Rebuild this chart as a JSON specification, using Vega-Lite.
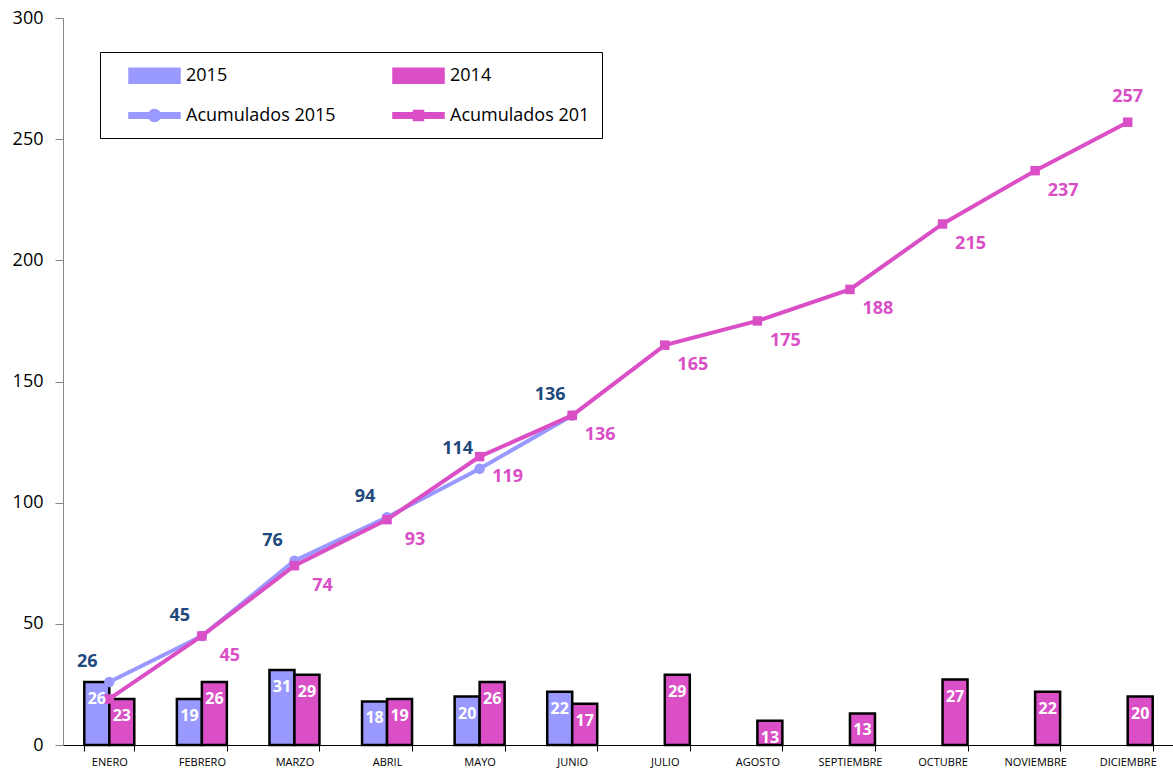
{
  "$schema": "https://vega.github.io/schema/vega-lite/v6.json",
  "width": 1111,
  "height": 727,
  "autosize": {"type": "none"},
  "padding": {"left": 63, "top": 18, "right": 0, "bottom": 24},
  "background": "white",
  "config": {
    "view": {"stroke": null},
    "font": "Open Sans",
    "axis": {"grid": false}
  },
  "data": {
    "values": [
      {"mes": "ENERO", "serie": "2015", "serieAcum": "Acumulados 2015", "valor": 26, "etiqueta": "26", "acum": 26},
      {"mes": "FEBRERO", "serie": "2015", "serieAcum": "Acumulados 2015", "valor": 19, "etiqueta": "19", "acum": 45},
      {"mes": "MARZO", "serie": "2015", "serieAcum": "Acumulados 2015", "valor": 31, "etiqueta": "31", "acum": 76},
      {"mes": "ABRIL", "serie": "2015", "serieAcum": "Acumulados 2015", "valor": 18, "etiqueta": "18", "acum": 94},
      {"mes": "MAYO", "serie": "2015", "serieAcum": "Acumulados 2015", "valor": 20, "etiqueta": "20", "acum": 114},
      {"mes": "JUNIO", "serie": "2015", "serieAcum": "Acumulados 2015", "valor": 22, "etiqueta": "22", "acum": 136},
      {"mes": "ENERO", "serie": "2014", "serieAcum": "Acumulados 201", "valor": 19, "etiqueta": "23", "acum": 19},
      {"mes": "FEBRERO", "serie": "2014", "serieAcum": "Acumulados 201", "valor": 26, "etiqueta": "26", "acum": 45},
      {"mes": "MARZO", "serie": "2014", "serieAcum": "Acumulados 201", "valor": 29, "etiqueta": "29", "acum": 74},
      {"mes": "ABRIL", "serie": "2014", "serieAcum": "Acumulados 201", "valor": 19, "etiqueta": "19", "acum": 93},
      {"mes": "MAYO", "serie": "2014", "serieAcum": "Acumulados 201", "valor": 26, "etiqueta": "26", "acum": 119},
      {"mes": "JUNIO", "serie": "2014", "serieAcum": "Acumulados 201", "valor": 17, "etiqueta": "17", "acum": 136},
      {"mes": "JULIO", "serie": "2014", "serieAcum": "Acumulados 201", "valor": 29, "etiqueta": "29", "acum": 165},
      {"mes": "AGOSTO", "serie": "2014", "serieAcum": "Acumulados 201", "valor": 10, "etiqueta": "13", "acum": 175},
      {"mes": "SEPTIEMBRE", "serie": "2014", "serieAcum": "Acumulados 201", "valor": 13, "etiqueta": "13", "acum": 188},
      {"mes": "OCTUBRE", "serie": "2014", "serieAcum": "Acumulados 201", "valor": 27, "etiqueta": "27", "acum": 215},
      {"mes": "NOVIEMBRE", "serie": "2014", "serieAcum": "Acumulados 201", "valor": 22, "etiqueta": "22", "acum": 237},
      {"mes": "DICIEMBRE", "serie": "2014", "serieAcum": "Acumulados 201", "valor": 20, "etiqueta": "20", "acum": 257}
    ]
  },
  "encoding": {
    "x": {
      "field": "mes",
      "type": "nominal",
      "sort": ["ENERO", "FEBRERO", "MARZO", "ABRIL", "MAYO", "JUNIO", "JULIO", "AGOSTO", "SEPTIEMBRE", "OCTUBRE", "NOVIEMBRE", "DICIEMBRE"],
      "scale": {"paddingInner": 0.46, "paddingOuter": 0.23},
      "axis": {
        "title": null,
        "labelAngle": 0,
        "labelFontSize": 11,
        "labelColor": "black",
        "labelPadding": 5,
        "domainColor": "black",
        "domainWidth": 1,
        "tickColor": "black",
        "tickSize": 6,
        "tickBand": "extent"
      }
    }
  },
  "layer": [
    {
      "mark": {"type": "bar", "stroke": "black", "strokeWidth": 2.5},
      "encoding": {
        "xOffset": {"field": "serie", "type": "nominal", "scale": {"domain": ["2015", "2014"]}},
        "y": {
          "field": "valor",
          "type": "quantitative",
          "scale": {"domain": [0, 300]},
          "axis": {
            "title": null,
            "values": [0, 50, 100, 150, 200, 250, 300],
            "labelFontSize": 18,
            "labelColor": "black",
            "labelPadding": 12,
            "domainColor": "#868686",
            "tickColor": "#868686",
            "tickSize": 8
          }
        },
        "color": {
          "field": "serie",
          "type": "nominal",
          "scale": {
            "domain": ["2015", "2014", "Acumulados 2015", "Acumulados 201"],
            "range": ["#9999FF", "#DA4FC6", "#9999FF", "#DA4FC6"]
          },
          "legend": {
            "title": null,
            "orient": "none",
            "legendX": 37,
            "legendY": 34,
            "direction": "horizontal",
            "columns": 2,
            "columnPadding": 40,
            "rowPadding": 16,
            "padding": 12,
            "strokeColor": "black",
            "fillColor": "white",
            "labelFontSize": 18,
            "labelColor": "black",
            "labelLimit": 400,
            "symbolSize": 400,
            "symbolOffset": 31,
            "labelOffset": 20,
            "symbolStrokeWidth": 2.5,
            "encoding": {
              "symbols": {
                "shape": {
                  "condition": [
                    {"test": "datum.value === 'Acumulados 2015'", "value": "M-2.5,-0.22H2.5V0.22H-2.5Z M-0.55,0 A0.55,0.55 0 1,1 0.55,0 A0.55,0.55 0 1,1 -0.55,0 Z"},
                    {"test": "datum.value === 'Acumulados 201'", "value": "M-2.5,-0.22H2.5V0.22H-2.5Z M-0.45,-0.45H0.45V0.45H-0.45Z"}
                  ],
                  "value": "M-2.5,-0.7H2.5V0.7H-2.5Z"
                },
                "stroke": {
                  "condition": {"test": "indexof(''+datum.value, 'Acum') < 0", "value": "black"},
                  "value": "transparent"
                },
                "strokeWidth": {"value": 2.5},
                "opacity": {"value": 1}
              }
            }
          }
        }
      }
    },
    {
      "transform": [{"filter": "datum.serie === '2015'"}],
      "mark": {"type": "line", "strokeWidth": 4, "point": {"shape": "circle", "size": 110, "filled": true, "opacity": 1}},
      "encoding": {
        "y": {"field": "acum", "type": "quantitative"},
        "color": {"field": "serieAcum", "type": "nominal"}
      }
    },
    {
      "transform": [{"filter": "datum.serie === '2014'"}],
      "mark": {"type": "line", "strokeWidth": 4, "point": {"shape": "square", "size": 90, "filled": true, "opacity": 1}},
      "encoding": {
        "y": {"field": "acum", "type": "quantitative"},
        "color": {"field": "serieAcum", "type": "nominal"}
      }
    },
    {
      "mark": {"type": "text", "color": "white", "fontWeight": "bold", "fontSize": 16, "baseline": "middle", "dy": 17},
      "encoding": {
        "xOffset": {"field": "serie", "type": "nominal", "scale": {"domain": ["2015", "2014"]}},
        "y": {"field": "valor", "type": "quantitative"},
        "text": {"field": "etiqueta"}
      }
    },
    {
      "transform": [{"filter": "datum.serie === '2015'"}],
      "mark": {"type": "text", "color": "#1F497D", "fontWeight": "bold", "fontSize": 18, "baseline": "middle", "dx": -22, "dy": -20},
      "encoding": {
        "y": {"field": "acum", "type": "quantitative"},
        "text": {"field": "acum"}
      }
    },
    {
      "transform": [{"filter": "datum.serie === '2014' && datum.mes !== 'ENERO' && datum.mes !== 'DICIEMBRE'"}],
      "mark": {"type": "text", "color": "#DA4FC6", "fontWeight": "bold", "fontSize": 18, "baseline": "middle", "dx": 28, "dy": 20},
      "encoding": {
        "y": {"field": "acum", "type": "quantitative"},
        "text": {"field": "acum"}
      }
    },
    {
      "transform": [{"filter": "datum.serie === '2014' && datum.mes === 'DICIEMBRE'"}],
      "mark": {"type": "text", "color": "#DA4FC6", "fontWeight": "bold", "fontSize": 18, "baseline": "middle", "dy": -25},
      "encoding": {
        "y": {"field": "acum", "type": "quantitative"},
        "text": {"field": "acum"}
      }
    }
  ]
}
